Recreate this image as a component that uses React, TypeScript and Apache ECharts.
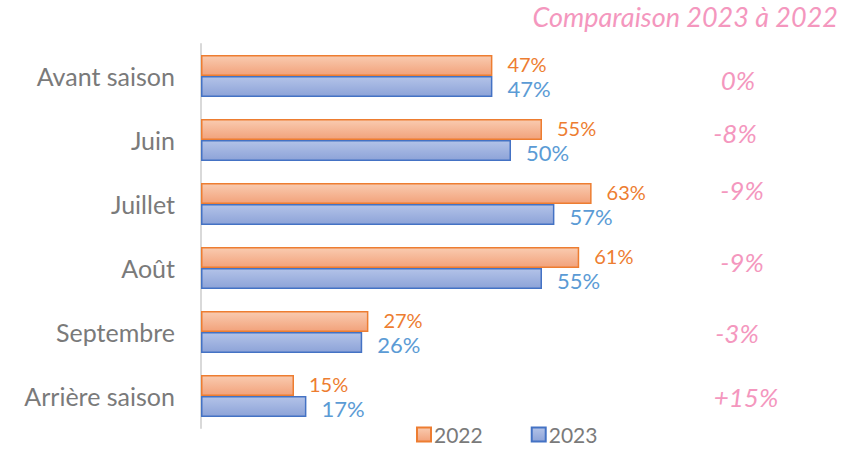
import React, { useEffect, useRef } from "react";
import * as echarts from "echarts";

const categories = ["Avant saison", "Juin", "Juillet", "Août", "Septembre", "Arrière saison"];
const values2022 = [47, 55, 63, 61, 27, 15];
const values2023 = [47, 50, 57, 55, 26, 17];
const comparisons = ["0%", "-8%", "-9%", "-9%", "-3%", "+15%"];
const titleText = "Comparaison 2023 à 2022";

// per-annotation placement tweaks (centre x, y offset from category centre)
const annX = [738, 735, 742, 742, 737, 746];
const annDy = [4, -7, -14, -6, 1, 1];

const FONT = "Lato, 'Open Sans', sans-serif";
const PINK = "#F497BE";

export default function App() {
  const ref = useRef<HTMLDivElement>(null);
  useEffect(() => {
    if (!ref.current) return;
    const chart = echarts.init(ref.current, null, { renderer: "svg" });
    const orangeFill = new echarts.graphic.LinearGradient(0, 0, 0, 1, [
      { offset: 0, color: "#F9CBB0" },
      { offset: 1, color: "#F2A27B" },
    ]);
    const blueFill = new echarts.graphic.LinearGradient(0, 0, 0, 1, [
      { offset: 0, color: "#B3C3E8" },
      { offset: 1, color: "#8DA3D8" },
    ]);
    chart.setOption({
      animation: false,
      textStyle: { fontFamily: FONT },
      grid: { left: 201, top: 44, width: 620, height: 384, containLabel: false },
      xAxis: {
        type: "value",
        min: 0,
        max: 100,
        show: false,
      },
      yAxis: {
        type: "category",
        data: categories,
        inverse: true,
        axisLine: { show: true, lineStyle: { color: "#D9D9D9", width: 2 } },
        axisTick: { show: false },
        axisLabel: { color: "#7A7A7A", fontSize: 25, margin: 26, fontFamily: FONT },
      },
      legend: {
        bottom: 3,
        left: 411,
        itemWidth: 14,
        itemHeight: 14,
        itemGap: 48,
        icon: "rect",
        textStyle: { color: "#7A7A7A", fontSize: 21, fontFamily: FONT, padding: [0, 0, 0, -2] },
        data: ["2022", "2023"],
      },
      series: [
        {
          name: "2022",
          type: "bar",
          data: values2022,
          barWidth: 21,
          barGap: "0%",
          itemStyle: { color: orangeFill, borderColor: "#ED7D31", borderWidth: 1.5 },
          label: {
            show: true,
            position: "right",
            distance: 15,
            offset: [0, -2],
            formatter: "{c}%",
            color: "#ED7D31",
            fontSize: 20,
            lineHeight: 18,
            fontFamily: FONT,
          },
        },
        {
          name: "2023",
          type: "bar",
          data: values2023,
          barWidth: 21,
          itemStyle: { color: blueFill, borderColor: "#4472C4", borderWidth: 1.5 },
          label: {
            show: true,
            position: "right",
            distance: 15,
            offset: [0, 2],
            formatter: "{c}%",
            color: "#5B9BD5",
            fontSize: 22,
            lineHeight: 19,
            fontFamily: FONT,
          },
        },
      ],
    });
    const graphics: any[] = [
      {
        type: "text",
        right: 5,
        top: 3,
        style: {
          text: titleText,
          fill: PINK,
          font: `italic 27px ${FONT}`,
        },
      },
    ];
    comparisons.forEach((t, i) => {
      const y = chart.convertToPixel({ yAxisIndex: 0 }, categories[i]) as number;
      graphics.push({
        type: "text",
        x: annX[i],
        y: y + annDy[i],
        style: {
          text: t,
          fill: PINK,
          font: `italic 26px ${FONT}`,
          align: "center",
          verticalAlign: "middle",
        },
      });
    });
    chart.setOption({ graphic: graphics });
    return () => chart.dispose();
  }, []);
  return (
    <div
      ref={ref}
      style={{ position: "fixed", left: 0, top: 0, width: 843, height: 453, background: "#fff" }}
    />
  );
}
